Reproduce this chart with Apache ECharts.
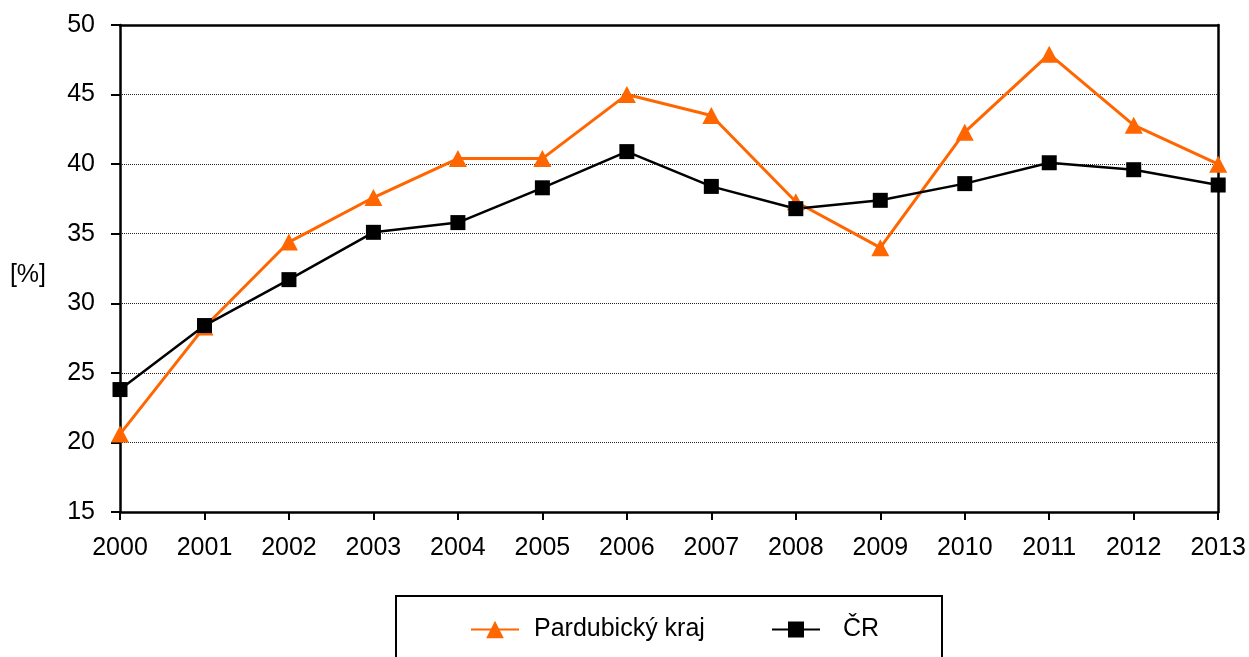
<!DOCTYPE html>
<html>
<head>
<meta charset="utf-8">
<script src="https://cdn.jsdelivr.net/npm/echarts@6/dist/echarts.min.js"></script>
<style>
html,body{margin:0;padding:0;background:#fff;}
#chart{width:1249px;height:657px;}
</style>
</head>
<body>
<div id="chart"></div>
<script>
const years = ['2000','2001','2002','2003','2004','2005','2006','2007','2008','2009','2010','2011','2012','2013'];
const pardubicky = [20.6, 28.3, 34.4, 37.6, 40.4, 40.4, 45.0, 43.5, 37.3, 34.0, 42.3, 47.9, 42.8, 40.0];
const cr = [23.8, 28.4, 31.7, 35.1, 35.8, 38.3, 40.9, 38.4, 36.8, 37.4, 38.6, 40.1, 39.6, 38.5];
const seriesNames = ['Pardubický kraj', 'ČR'];
const yTicks = {min: 15, max: 50, interval: 5};

const FONT = "'Liberation Sans', Arial, sans-serif";
const FS = 25;
const chart = echarts.init(document.getElementById('chart'), null, {renderer: 'canvas'});
chart.setOption({
  animation: false,
  backgroundColor: '#fff',
  grid: {left: 120, right: 30, top: 25, bottom: 145},
  graphic: [{
    type: 'rect', shape: {x: 396, y: 596, width: 546, height: 80},
    style: {fill: '#fff', stroke: '#000', lineWidth: 2}, z: -1
  }],
  legend: [{
    data: [seriesNames[0]], left: 465, top: 612, itemWidth: 48, itemHeight: 22,
    textStyle: {fontFamily: FONT, fontSize: FS, color: '#000', padding: [0, 0, 0, 10]}
  }, {
    data: [seriesNames[1]], left: 766, top: 612, itemWidth: 48, itemHeight: 20,
    textStyle: {fontFamily: FONT, fontSize: FS, color: '#000', padding: [0, 0, 0, 18]}
  }],
  xAxis: [{
    type: 'category', data: years, boundaryGap: false,
    axisLine: {lineStyle: {color: '#000', width: 2.5}},
    axisTick: {show: true, length: 8, lineStyle: {color: '#000', width: 2}},
    axisLabel: {fontFamily: FONT, fontSize: FS, color: '#000', margin: 24},
    splitLine: {show: false}
  }, {
    type: 'category', data: years, boundaryGap: false, position: 'top',
    axisLine: {show: true, lineStyle: {color: '#000', width: 2.5}},
    axisTick: {show: false}, axisLabel: {show: false}, splitLine: {show: false}
  }],
  yAxis: [{
    type: 'value', min: yTicks.min, max: yTicks.max, interval: yTicks.interval,
    name: '[%]', nameLocation: 'middle', nameGap: 74, nameRotate: 0,
    nameTextStyle: {fontFamily: FONT, fontSize: FS, color: '#000', verticalAlign: 'top', lineHeight: 14},
    axisLine: {show: true, lineStyle: {color: '#000', width: 2.5}},
    axisTick: {show: true, length: 9, lineStyle: {color: '#000', width: 2}},
    axisLabel: {fontFamily: FONT, fontSize: FS, color: '#000', margin: 25},
    splitLine: {show: true, lineStyle: {color: '#222', width: 1, type: [1, 1]}}
  }, {
    type: 'value', min: yTicks.min, max: yTicks.max, interval: yTicks.interval, position: 'right',
    axisLine: {show: true, lineStyle: {color: '#000', width: 2.5}},
    axisTick: {show: false}, axisLabel: {show: false}, splitLine: {show: false}
  }],
  series: [{
    name: seriesNames[0], type: 'line', data: pardubicky,
    symbol: 'triangle', symbolSize: [18, 17],
    lineStyle: {color: '#FF6600', width: 3},
    itemStyle: {color: '#FF6600'}
  }, {
    name: seriesNames[1], type: 'line', data: cr,
    symbol: 'rect', symbolSize: 15,
    lineStyle: {color: '#000', width: 2.5},
    itemStyle: {color: '#000'}
  }]
});
</script>
</body>
</html>
